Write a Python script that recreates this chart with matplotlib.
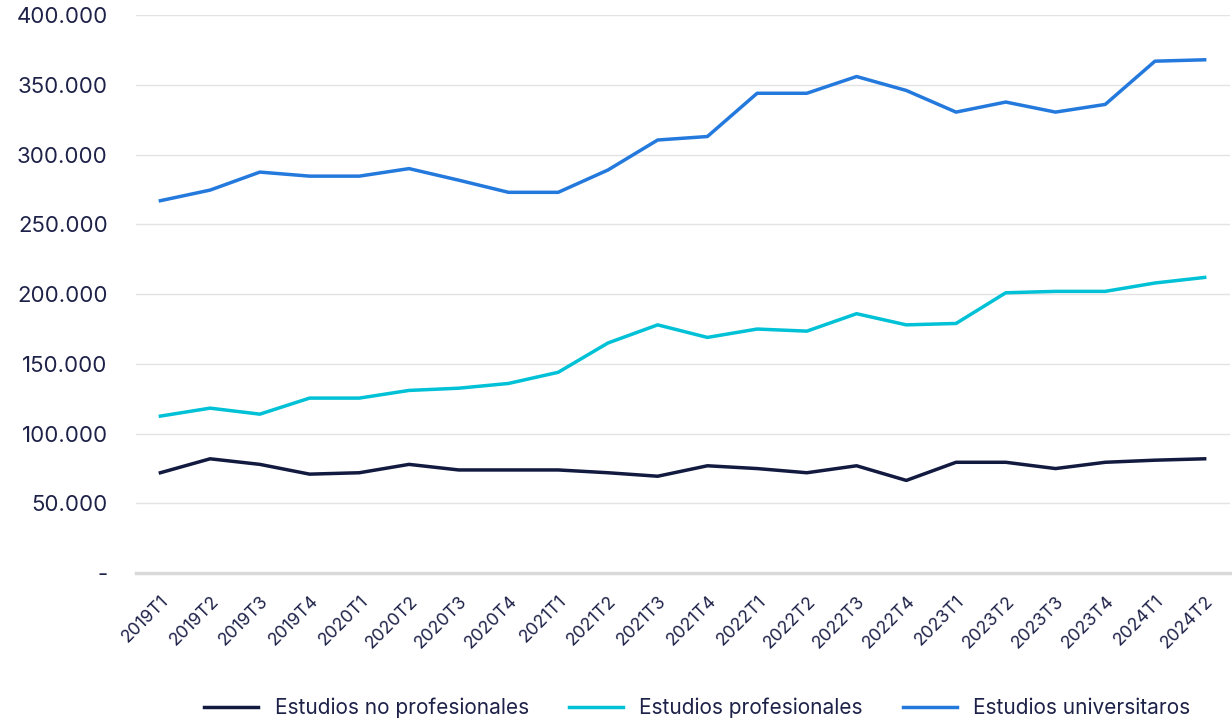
import matplotlib.pyplot as plt
from matplotlib.ticker import FuncFormatter

# data
periodos = ["2019T1", "2019T2", "2019T3", "2019T4", "2020T1", "2020T2", "2020T3", "2020T4",
            "2021T1", "2021T2", "2021T3", "2021T4", "2022T1", "2022T2", "2022T3", "2022T4",
            "2023T1", "2023T2", "2023T3", "2023T4", "2024T1", "2024T2"]

no_profesionales = [72000, 82000, 78000, 71000, 72000, 78000, 74000, 74000,
                    74000, 72000, 69500, 77000, 75000, 72000, 77000, 66500,
                    79500, 79500, 75000, 79500, 81000, 82000]

profesionales = [112600, 118300, 114000, 125500, 125500, 131000, 132600, 136000,
                 144000, 165000, 178000, 169000, 175000, 173500, 186000, 178000,
                 179000, 201000, 202000, 202000, 208000, 212000]

universitarios = [267000, 274600, 287500, 284600, 284600, 290000, 281700, 273000,
                  273000, 289000, 310500, 313000, 344000, 344000, 356000, 346000,
                  330500, 337700, 330500, 336000, 367000, 368000]

text_color = "#1e2248"
plt.rcParams['font.family'] = ['Inter', 'DejaVu Sans']

fig = plt.figure(figsize=(12.32, 7.21), dpi=100)
ax = fig.add_axes([0.110, 0.205, 0.888, 0.774])

x = range(len(periodos))
ax.plot(x, no_profesionales, color="#131a40", lw=2.5, label="Estudios no profesionales")
ax.plot(x, profesionales, color="#00c1d6", lw=2.5, label="Estudios profesionales")
ax.plot(x, universitarios, color="#2479dd", lw=2.5, label="Estudios universitaros")

ax.set_ylim(0, 400000)
ax.set_xlim(-0.5, len(periodos) - 0.5)
ax.set_yticks(range(0, 400001, 50000))


def miles(v, pos):
    if v == 0:
        return "-"
    return f"{int(v):,}".replace(",", ".")


ax.yaxis.set_major_formatter(FuncFormatter(miles))
ax.set_xticks(list(x))
ax.set_xticklabels(periodos, rotation=45, ha="right", rotation_mode="anchor")

ax.grid(axis="y", color="#e3e3e3", lw=1)
ax.set_axisbelow(True)
for s in ["top", "right", "left"]:
    ax.spines[s].set_visible(False)
ax.spines["bottom"].set_color("#d9d9d9")
ax.spines["bottom"].set_linewidth(2.5)

ax.tick_params(axis="both", length=0, colors=text_color)
ax.tick_params(axis="y", labelsize=16, pad=20)
ax.tick_params(axis="x", labelsize=12.8, pad=14)

leg = fig.legend(loc="center", bbox_to_anchor=(0.566, 0.018), ncol=3, frameon=False,
                 fontsize=15, handlelength=2.6, columnspacing=1.9)
for t in leg.get_texts():
    t.set_color(text_color)

fig.savefig("out.png", dpi=100)
